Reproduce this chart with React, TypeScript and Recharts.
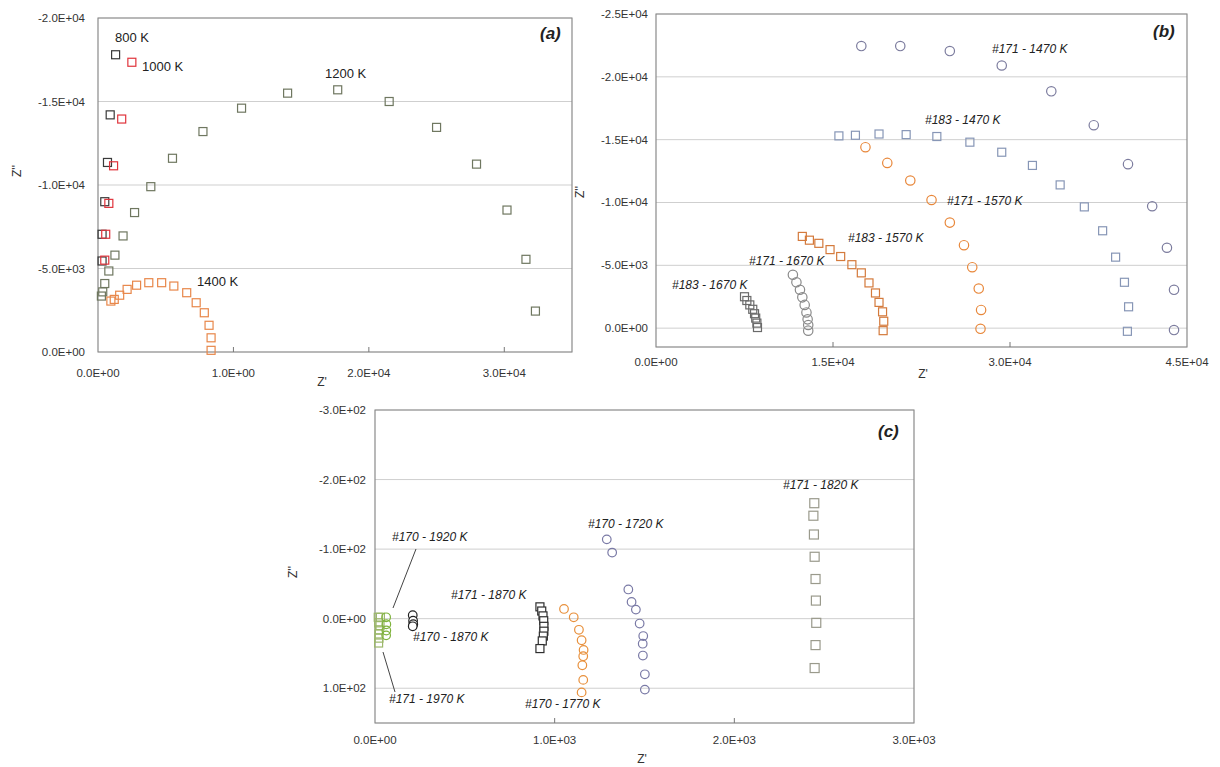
import { ScatterChart, Scatter, XAxis, YAxis, CartesianGrid, ReferenceArea } from 'recharts'

const FONT = '"Liberation Sans", Arial, sans-serif'

// ---- panel (a) ----
const aXTicks = [0, 10000, 20000, 30000]
const aXLabels = ['0.0E+00', '1.0E+00', '2.0E+04', '3.0E+04']
const aYTicks = [-20000, -15000, -10000, -5000, 0]
const aYLabels = ['-2.0E+04', '-1.5E+04', '-1.0E+04', '-5.0E+03', '0.0E+00']

const a800K = [[1300, -17800], [900, -14200], [700, -11350], [500, -9000], [300, -7050], [300, -5450]]
const a1000K = [[2500, -17350], [1750, -13950], [1150, -11150], [800, -8900], [570, -7050], [500, -5500]]
const a1200K = [
  [32300, -2450], [31600, -5550], [30200, -8500], [27950, -11250], [25000, -13450], [21500, -15000],
  [17700, -15700], [14000, -15500], [10600, -14600], [7750, -13200], [5500, -11600], [3900, -9900],
  [2700, -8350], [1850, -6950], [1250, -5800], [800, -4850], [500, -4100], [350, -3600], [250, -3350],
]
const a1400K = [
  [8350, -100], [8350, -850], [8200, -1600], [7850, -2350], [7250, -2950], [6550, -3550], [5600, -3950],
  [4700, -4150], [3750, -4150], [2850, -4000], [2150, -3750], [1600, -3400], [1200, -3150], [950, -3050],
]

// ---- panel (b) ----
const bXTicks = [0, 15000, 30000, 45000]
const bXLabels = ['0.0E+00', '1.5E+04', '3.0E+04', '4.5E+04']
const bYTicks = [-25000, -20000, -15000, -10000, -5000, 0]
const bYLabels = ['-2.5E+04', '-2.0E+04', '-1.5E+04', '-1.0E+04', '-5.0E+03', '0.0E+00']

const b171_1470 = [
  [17400, -22450], [20700, -22450], [24900, -22050], [29300, -20900], [33500, -18850], [37100, -16150],
  [40000, -13050], [42050, -9700], [43300, -6400], [43900, -3050], [43900, 150],
]
const b183_1470 = [
  [15500, -15300], [16900, -15350], [18900, -15450], [21200, -15400], [23800, -15250], [26600, -14800],
  [29300, -14000], [31900, -12950], [34250, -11400], [36300, -9650], [37850, -7750], [38950, -5650],
  [39700, -3650], [40050, -1700], [39950, 250],
]
const b171_1570 = [
  [17750, -14400], [19600, -13150], [21550, -11750], [23350, -10200], [24900, -8400], [26100, -6600],
  [26800, -4850], [27350, -3150], [27550, -1450], [27500, 50],
]
const b183_1570 = [
  [12400, -7300], [13000, -7000], [13800, -6750], [14750, -6250], [15650, -5700], [16600, -5050],
  [17400, -4400], [18050, -3600], [18600, -2800], [18900, -2050], [19200, -1300], [19300, -550], [19250, 200],
]
const b171_1670 = [
  [11600, -4250], [11900, -3650], [12200, -3050], [12400, -2450], [12600, -1850], [12750, -1250],
  [12850, -700], [12900, -250], [12900, 200],
]
const b183_1670 = [
  [7500, -2500], [7700, -2200], [7950, -1850], [8200, -1500], [8350, -1150], [8450, -800], [8550, -400], [8600, -50],
]

// ---- panel (c) ----
const cXTicks = [0, 1000, 2000, 3000]
const cXLabels = ['0.0E+00', '1.0E+03', '2.0E+03', '3.0E+03']
const cYTicks = [-300, -200, -100, 0, 100]
const cYLabels = ['-3.0E+02', '-2.0E+02', '-1.0E+02', '0.0E+00', '1.0E+02']

const c171_1820 = [[2445, -166], [2440, -148], [2443, -121], [2447, -89], [2452, -57], [2454, -26], [2456, 6], [2452, 38], [2447, 71]]
const c170_1720 = [[1290, -114], [1320, -95], [1410, -42], [1428, -24], [1452, -13], [1473, 7], [1493, 25], [1490, 36], [1491, 53], [1502, 80], [1502, 102]]
const c170_1770 = [[1052, -14], [1106, -2], [1135, 16], [1150, 31], [1161, 45], [1159, 54], [1154, 67], [1159, 88], [1150, 106]]
const c171_1870 = [[918, -17], [928, -11], [935, -4], [939, 3], [940, 11], [940, 18], [937, 25], [931, 32], [918, 43]]
const c170_1870 = [[210, -5], [212, 3], [213, 8], [210, 11]]
const c170_1920 = [[62, -2], [63, 8], [63, 17], [62, 24]]
const c171_1970 = [[18, -2], [30, -2], [20, 6], [28, 10], [24, 16], [22, 22], [22, 28], [20, 35]]

const pts = (arr: number[][]) => arr.map(([x, y]) => ({ x, y }))

const square = (color: string, s = 8, fill = 'none') => (p: any) =>
  p.cx == null ? <g /> : (
    <rect x={p.cx - s / 2} y={p.cy - s / 2} width={s} height={s} fill={fill} stroke={color} strokeWidth={1.2} />
  )
const circle = (color: string, r = 4.5, fill = 'none') => (p: any) =>
  p.cx == null ? <g /> : <circle cx={p.cx} cy={p.cy} r={r} fill={fill} stroke={color} strokeWidth={1.2} />

function xTick(ticks: number[], labels: string[], dy: number, inner: number[]) {
  return (p: any) => {
    const i = ticks.indexOf(p.payload.value)
    return (
      <g>
        {inner.includes(p.payload.value) && <line x1={p.x} x2={p.x} y1={p.y} y2={p.y - 5} stroke="#777" />}
        <text x={p.x} y={p.y + dy} textAnchor="middle" fontSize={11.5} fontFamily={FONT} fill="#333">
          {labels[i]}
        </text>
      </g>
    )
  }
}

function yTick(ticks: number[], labels: string[], dx: number) {
  return (p: any) => {
    const i = ticks.indexOf(p.payload.value)
    return (
      <text x={p.x - dx} y={p.y + 4} textAnchor="end" fontSize={11.5} fontFamily={FONT} fill="#333">
        {labels[i]}
      </text>
    )
  }
}

const txt = (s: string, left: number, cy: number, size = 12, italic = true, bold = false) => (
  <span
    key={s + left}
    style={{
      position: 'absolute', left, top: cy - size * 0.6, fontSize: size, lineHeight: 1, whiteSpace: 'nowrap',
      fontFamily: FONT, fontStyle: italic ? 'italic' : 'normal', fontWeight: bold ? 'bold' : 'normal', color: '#222',
    }}
  >
    {s}
  </span>
)

const vtxt = (s: string, cx: number, cy: number) => (
  <span
    key={s + cx}
    style={{
      position: 'absolute', left: cx - 10, top: cy - 7, width: 20, textAlign: 'center', fontSize: 12, lineHeight: 1,
      fontFamily: FONT, color: '#333', transform: 'rotate(-90deg)',
    }}
  >
    {s}
  </span>
)

const htxt = (s: string, cx: number, cy: number) => (
  <span
    key={s + cx}
    style={{
      position: 'absolute', left: cx - 10, top: cy - 7, width: 20, textAlign: 'center', fontSize: 12, lineHeight: 1,
      fontFamily: FONT, color: '#333',
    }}
  >
    {s}
  </span>
)

const GRID = '#cfcfcf'
const BOX = '#8a8a8a'

export default function App() {
  return (
    <div style={{ position: 'absolute', left: 0, top: 0, width: 1220, height: 767, background: '#fff', overflow: 'hidden' }}>
      {/* (a) */}
      <div style={{ position: 'absolute', left: 0, top: 0 }}>
        <ScatterChart width={590} height={395} margin={{ top: 18, right: 18, bottom: 0, left: 0 }}>
          <CartesianGrid vertical={false} stroke={GRID} />
          <XAxis type="number" dataKey="x" domain={[0, 35000]} ticks={aXTicks} interval={0} height={43}
            axisLine={false} tickLine={false} tickSize={0} tickMargin={0} tick={xTick(aXTicks, aXLabels, 25, [10000, 20000, 30000])} />
          <YAxis type="number" dataKey="y" domain={[-20000, 0]} reversed ticks={aYTicks} interval={0} width={98}
            axisLine={false} tickLine={false} tickSize={0} tickMargin={0} tick={yTick(aYTicks, aYLabels, 13)} />
          <ReferenceArea x1={0} x2={35000} y1={-20000} y2={0} fill="none" stroke={BOX} strokeWidth={1.2} />
          <Scatter data={pts(a1200K)} shape={square('#6f7760')} isAnimationActive={false} />
          <Scatter data={pts(a1400K)} shape={square('#e8874a')} isAnimationActive={false} />
          <Scatter data={pts(a800K)} shape={square('#3a3a3a')} isAnimationActive={false} />
          <Scatter data={pts(a1000K)} shape={square('#e0343c')} isAnimationActive={false} />
        </ScatterChart>
      </div>

      {/* (b) */}
      <div style={{ position: 'absolute', left: 560, top: 0 }}>
        <ScatterChart width={660} height={385} margin={{ top: 14, right: 33, bottom: 0, left: 0 }}>
          <CartesianGrid vertical={false} stroke={GRID} />
          <XAxis type="number" dataKey="x" domain={[0, 45000]} ticks={bXTicks} interval={0} height={38}
            axisLine={false} tickLine={false} tickSize={0} tickMargin={0} tick={xTick(bXTicks, bXLabels, 19, [15000, 30000])} />
          <YAxis type="number" dataKey="y" domain={[-25000, 1500]} reversed ticks={bYTicks} interval={0} width={96}
            axisLine={false} tickLine={false} tickSize={0} tickMargin={0} tick={yTick(bYTicks, bYLabels, 8)} />
          <ReferenceArea x1={0} x2={45000} y1={-25000} y2={1500} fill="none" stroke={BOX} strokeWidth={1.2} />
          <Scatter data={pts(b171_1470)} shape={circle('#7c7c9e', 4.7)} isAnimationActive={false} />
          <Scatter data={pts(b183_1470)} shape={square('#8796b6', 8)} isAnimationActive={false} />
          <Scatter data={pts(b171_1570)} shape={circle('#e8873a', 4.7)} isAnimationActive={false} />
          <Scatter data={pts(b183_1570)} shape={square('#d47a3c', 8)} isAnimationActive={false} />
          <Scatter data={pts(b171_1670)} shape={circle('#8a8a8a', 4.7)} isAnimationActive={false} />
          <Scatter data={pts(b183_1670)} shape={square('#6a6a6a', 8)} isAnimationActive={false} />
        </ScatterChart>
      </div>

      {/* (c) */}
      <div style={{ position: 'absolute', left: 270, top: 395 }}>
        <ScatterChart width={690} height={372} margin={{ top: 15, right: 46, bottom: 0, left: 0 }}>
          <CartesianGrid vertical={false} stroke={GRID} />
          <XAxis type="number" dataKey="x" domain={[0, 3000]} ticks={cXTicks} interval={0} height={44}
            axisLine={false} tickLine={false} tickSize={0} tickMargin={0} tick={xTick(cXTicks, cXLabels, 21, [1000, 2000])} />
          <YAxis type="number" dataKey="y" domain={[-300, 150]} reversed ticks={cYTicks} interval={0} width={105}
            axisLine={false} tickLine={false} tickSize={0} tickMargin={0} tick={yTick(cYTicks, cYLabels, 9)} />
          <ReferenceArea x1={0} x2={3000} y1={-300} y2={150} fill="none" stroke={BOX} strokeWidth={1.2} />
          <Scatter data={pts(c171_1820)} shape={square('#9a9a8c', 9)} isAnimationActive={false} />
          <Scatter data={pts(c170_1720)} shape={circle('#7a7aa6', 4.3)} isAnimationActive={false} />
          <Scatter data={pts(c170_1770)} shape={circle('#e8903c', 4.3)} isAnimationActive={false} />
          <Scatter data={pts(c171_1870)} shape={square('#2e2e2e', 8, '#fff')} isAnimationActive={false} />
          <Scatter data={pts(c170_1870)} shape={circle('#222', 4.3, '#fff')} isAnimationActive={false} />
          <Scatter data={pts(c171_1970)} shape={square('#9cb86a', 8)} isAnimationActive={false} />
          <Scatter data={pts(c170_1920)} shape={circle('#7fb33c', 4.3)} isAnimationActive={false} />
        </ScatterChart>
      </div>

      <svg width={1220} height={767} style={{ position: 'absolute', left: 0, top: 0, pointerEvents: 'none' }}>
        <line x1={416} y1={549} x2={393} y2={608} stroke="#444" strokeWidth={1} />
        <line x1={383} y1={652} x2={395} y2={692} stroke="#444" strokeWidth={1} />
      </svg>

      {/* axis titles */}
      {vtxt("Z''", 17, 172)}
      {htxt("Z'", 322, 383)}
      {vtxt("Z''", 580, 193)}
      {htxt("Z'", 923, 375)}
      {vtxt("Z''", 293, 573)}
      {htxt("Z'", 642, 760)}

      {/* (a) labels */}
      {txt('800 K', 115, 39, 13, false)}
      {txt('1000 K', 142, 68, 13, false)}
      {txt('1200 K', 325, 75, 13, false)}
      {txt('1400 K', 197, 283, 13, false)}
      {txt('(a)', 540, 35, 17, true, true)}

      {/* (b) labels */}
      {txt('#171 - 1470 K', 992, 50)}
      {txt('#183 - 1470 K', 925, 121)}
      {txt('#171 - 1570 K', 947, 202)}
      {txt('#183 - 1570 K', 848, 239)}
      {txt('#171 - 1670 K', 749, 262)}
      {txt('#183 - 1670 K', 672, 286)}
      {txt('(b)', 1153, 33, 17, true, true)}

      {/* (c) labels */}
      {txt('#170 - 1920 K', 392, 538)}
      {txt('#171 - 1970 K', 389, 700)}
      {txt('#170 - 1870 K', 413, 638)}
      {txt('#171 - 1870 K', 451, 596)}
      {txt('#170 - 1720 K', 588, 525)}
      {txt('#171 - 1820 K', 783, 486)}
      {txt('#170 - 1770 K', 525, 705)}
      {txt('(c)', 878, 433, 17, true, true)}
    </div>
  )
}
